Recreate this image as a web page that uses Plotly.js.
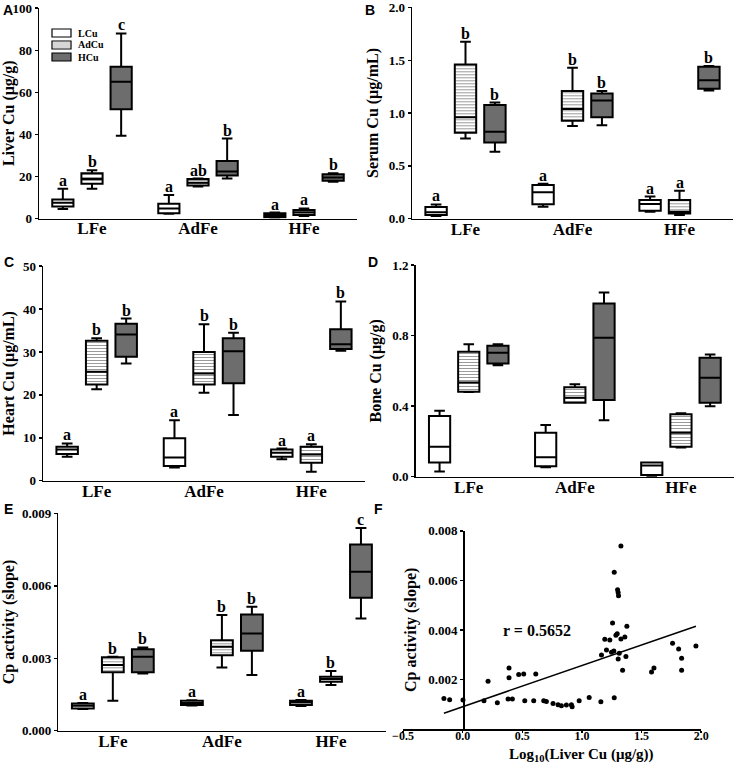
<!DOCTYPE html>
<html>
<head>
<meta charset="utf-8">
<script src="https://cdn.plot.ly/plotly-3.0.1.min.js"></script>
<style>html,body{margin:0;padding:0;background:#fff;}#chart{width:736px;height:763px;}</style>
</head>
<body>
<div id="chart"></div>
<script>
// ---------------- DATA ----------------
const groups = ['LFe', 'AdFe', 'HFe'];
const seriesNames = ['LCu', 'AdCu', 'HCu'];
// each row: [lower whisker, Q1, median, Q3, upper whisker] for LFe, AdFe, HFe
// A: Liver Cu (µg/g)
const liverLCu = [[4.5, 5.7, 7.5, 9.0, 14.2], [2.2, 2.5, 4.7, 7.0, 11.2], [0.3, 0.6, 1.5, 2.5, 2.8]];
const liverAdCu = [[14.2, 16.5, 18.8, 21.5, 23.0], [15.2, 15.7, 17.0, 18.8, 19.0], [1.2, 1.7, 3.0, 4.1, 4.8]];
const liverHCu = [[39.4, 52.0, 65.0, 72.2, 88.0], [19.0, 20.4, 22.3, 27.4, 38.0], [17.5, 17.9, 19.5, 21.0, 21.5]];
const liverLetters = [['a', 'b', 'c'], ['a', 'ab', 'b'], ['a', 'a', 'b']];
// B: Serum Cu (µg/mL)
const serumLCu = [[0.025, 0.035, 0.06, 0.11, 0.135], [0.114, 0.136, 0.25, 0.32, 0.33], [0.066, 0.076, 0.139, 0.177, 0.21]];
const serumAdCu = [[0.76, 0.814, 0.96, 1.46, 1.675], [0.877, 0.927, 1.04, 1.21, 1.43], [0.035, 0.05, 0.065, 0.177, 0.265]];
const serumHCu = [[0.634, 0.722, 0.823, 1.076, 1.10], [0.886, 0.96, 1.12, 1.186, 1.21], [1.215, 1.23, 1.31, 1.44, 1.445]];
const serumLetters = [['a', 'b', 'b'], ['a', 'b', 'b'], ['a', 'a', 'b']];
// C: Heart Cu (µg/mL)
const heartLCu = [[5.6, 6.2, 7.3, 7.9, 8.7], [3.1, 3.4, 5.4, 9.9, 14.1], [5.0, 5.6, 6.5, 7.3, 7.5]];
const heartAdCu = [[21.3, 22.4, 25.4, 32.6, 33.2], [20.5, 22.4, 25.0, 30.0, 36.5], [2.1, 4.2, 6.1, 7.9, 8.5]];
const heartHCu = [[27.3, 28.9, 34.1, 36.6, 37.8], [15.3, 22.7, 30.2, 33.2, 34.5], [30.3, 30.7, 31.8, 35.3, 41.8]];
const heartLetters = [['a', 'b', 'b'], ['a', 'b', 'b'], ['a', 'a', 'b']];
// D: Bone Cu (µg/g)
const boneLCu = [[0.03, 0.081, 0.17, 0.344, 0.374], [0.053, 0.06, 0.11, 0.25, 0.293], [0.004, 0.009, 0.063, 0.081, 0.081]];
const boneAdCu = [[0.48, 0.482, 0.535, 0.709, 0.752], [0.42, 0.42, 0.448, 0.507, 0.524], [0.166, 0.17, 0.25, 0.354, 0.36]];
const boneHCu = [[0.633, 0.643, 0.703, 0.743, 0.752], [0.321, 0.435, 0.788, 0.983, 1.045], [0.40, 0.42, 0.561, 0.675, 0.694]];
// E: Cp activity (slope)
const cpLCu = [[0.0009, 0.00092, 0.00103, 0.00113, 0.00115], [0.00104, 0.00106, 0.00115, 0.00124, 0.00126], [0.00102, 0.00106, 0.00117, 0.00124, 0.00127]];
const cpAdCu = [[0.00124, 0.00242, 0.00272, 0.00304, 0.00306], [0.00262, 0.00313, 0.00348, 0.00375, 0.00479], [0.00189, 0.00203, 0.00214, 0.00224, 0.00247]];
const cpHCu = [[0.00237, 0.00242, 0.00306, 0.00338, 0.00345], [0.00231, 0.00331, 0.00403, 0.00482, 0.00514], [0.00465, 0.00551, 0.00659, 0.00772, 0.0084]];
const cpLetters = [['a', 'b', 'b'], ['a', 'b', 'b'], ['a', 'b', 'c']];
// F: correlation
const logLiverCu = [-0.157, -0.109, 0.003, 0.179, 0.213, 0.291, 0.389, 0.389, 0.381, 0.417, 0.47, 0.512, 0.521, 0.596, 0.613, 0.68, 0.702, 0.758, 0.8, 0.828, 0.87, 0.912, 0.918, 0.977, 1.061, 1.159, 1.271,
  1.327, 1.271, 1.299, 1.304, 1.307, 1.257, 1.377, 1.192, 1.234, 1.285, 1.296, 1.327, 1.36, 1.164, 1.206, 1.248, 1.268, 1.313, 1.304, 1.369, 1.341, 1.584, 1.604, 1.76, 1.811, 1.836, 1.836, 1.956];
const cpActivity = [0.00123, 0.00118, 0.00117, 0.00114, 0.00193, 0.00106, 0.00246, 0.00207, 0.00121, 0.00121, 0.0022, 0.00222, 0.00114, 0.00114, 0.00222, 0.00114, 0.00111, 0.00103, 0.00098, 0.00094, 0.00097, 0.00098, 0.0009, 0.00114, 0.00127, 0.0011, 0.00126,
  0.00739, 0.00633, 0.00562, 0.00551, 0.00538, 0.00428, 0.00415, 0.00362, 0.00359, 0.00379, 0.00385, 0.00363, 0.00372, 0.00299, 0.00319, 0.0031, 0.00315, 0.00306, 0.00283, 0.00293, 0.00237, 0.0023, 0.00246, 0.00346, 0.00323, 0.00286, 0.00237, 0.00335];
const fitIntercept = 0.0009;
const fitSlope = 0.00166;
const rText = 'r = 0.5652';

// ---------------- STYLE / LAYOUT ----------------
const W = 736, H = 763;
const SERIF = 'Liberation Serif, Times New Roman, serif';
const SANS = 'Liberation Sans, Arial, sans-serif';
const offsets = [-0.275, 0, 0.275];
const boxW = 0.2;
const fills = ['#ffffff', 'rgba(0,0,0,0)', '#6d6d6d'];
const px = v => v / W;
const py = v => 1 - v / H;

const traces = [];
const annotations = [];
const shapes = [];
const layout = {
  width: W, height: H, margin: {l: 0, r: 0, t: 0, b: 0},
  paper_bgcolor: '#fff', plot_bgcolor: 'rgba(0,0,0,0)',
  showlegend: false, boxmode: 'overlay', barmode: 'overlay',
  font: {family: SERIF, color: '#000'},
  annotations: annotations, shapes: shapes
};

function addPanel(n, cfg) {
  const xa = 'x' + (n === 1 ? '' : n), ya = 'y' + (n === 1 ? '' : n);
  const xk = 'xaxis' + (n === 1 ? '' : n), yk = 'yaxis' + (n === 1 ? '' : n);
  const sets = cfg.sets;
  // striped AdCu box bodies (pattern fill under the box outline)
  const ad = sets[1];
  traces.push({
    type: 'bar', xaxis: xa, yaxis: ya,
    x: groups.map((g, i) => i + offsets[1]),
    base: ad.map(r => r[1]), y: ad.map(r => r[3] - r[1]),
    width: boxW, hoverinfo: 'skip',
    marker: {color: '#fff', line: {width: 0},
      pattern: {shape: '-', size: 3, solidity: 0.35, fgcolor: '#9a9a9a', bgcolor: '#ffffff'}}
  });
  sets.forEach((st, s) => {
    traces.push({
      type: 'box', xaxis: xa, yaxis: ya, name: seriesNames[s],
      x: groups.map((g, i) => i + offsets[s]),
      lowerfence: st.map(r => r[0]), q1: st.map(r => r[1]), median: st.map(r => r[2]),
      q3: st.map(r => r[3]), upperfence: st.map(r => r[4]),
      width: boxW, whiskerwidth: 0.5, fillcolor: fills[s],
      line: {color: '#000', width: 2}, boxpoints: false, hoverinfo: 'skip'
    });
  });
  if (cfg.letters) {
    sets.forEach((st, s) => {
      st.forEach((r, i) => {
        annotations.push({
          xref: xa, yref: ya, x: i + offsets[s], y: r[4], text: cfg.letters[i][s],
          showarrow: false, yanchor: 'bottom', xanchor: 'center', yshift: -2,
          font: {family: SERIF, size: 16, weight: 'bold', color: '#000'}
        });
      });
    });
  }
  const top = cfg.tickvals[cfg.tickvals.length - 1];
  layout[xk] = {
    domain: [px(cfg.x0), px(cfg.x1)], range: [-0.5, 2.5], anchor: ya,
    tickvals: [0, 1, 2], ticktext: groups, ticks: '', ticklabelstandoff: -6,
    showline: true, linecolor: '#000', linewidth: 1.5, showgrid: false, zeroline: false,
    tickfont: {family: SERIF, size: 17, weight: 'bold', color: '#000'}, fixedrange: true
  };
  layout[yk] = {
    domain: [py(cfg.yb), py(cfg.yt)], range: [0, top * 1.001], anchor: xa,
    tickvals: cfg.tickvals, tickformat: cfg.fmt, ticks: 'outside', ticklen: 3, tickwidth: 1.5, tickcolor: '#000',
    ticklabelstandoff: 0,
    showline: true, linecolor: '#000', linewidth: 1.5, showgrid: false, zeroline: false,
    tickfont: {family: SERIF, size: 13, weight: 'bold', color: '#000'}, fixedrange: true,
    title: {text: cfg.title, standoff: cfg.standoff || 6, font: {family: SERIF, size: 16, weight: 'bold', color: '#000'}}
  };
}

addPanel(1, {sets: [liverLCu, liverAdCu, liverHCu], letters: liverLetters, x0: 39, x1: 357, yb: 218.5, yt: 8,
  tickvals: [0, 20, 40, 60, 80, 100], fmt: 'd', title: 'Liver Cu (μg/g)'});
addPanel(2, {sets: [serumLCu, serumAdCu, serumHCu], letters: serumLetters, x0: 412, x1: 733, yb: 218.7, yt: 7.3,
  tickvals: [0, 0.5, 1, 1.5, 2], fmt: '.1f', title: 'Serum Cu (μg/mL)'});
addPanel(3, {sets: [heartLCu, heartAdCu, heartHCu], letters: heartLetters, x0: 43, x1: 365, yb: 480.7, yt: 266,
  tickvals: [0, 10, 20, 30, 40, 50], fmt: 'd', title: 'Heart Cu (μg/mL)'});
addPanel(4, {sets: [boneLCu, boneAdCu, boneHCu], letters: null, x0: 415.7, x1: 734, yb: 476.7, yt: 265,
  tickvals: [0, 0.4, 0.8, 1.2], fmt: '.1f', title: 'Bone Cu (μg/g)'});
addPanel(5, {sets: [cpLCu, cpAdCu, cpHCu], letters: cpLetters, x0: 58.3, x1: 385.5, yb: 730.7, yt: 513.3,
  tickvals: [0, 0.003, 0.006, 0.009], fmt: '.3f', title: 'Cp activity (slope)'});

// Panel F: scatter + fit line
const xMin = Math.min(...logLiverCu), xMax = Math.max(...logLiverCu);
traces.push({type: 'scatter', mode: 'markers', xaxis: 'x6', yaxis: 'y6', x: logLiverCu, y: cpActivity,
  marker: {color: '#000', size: 5}, hoverinfo: 'skip'});
traces.push({type: 'scatter', mode: 'lines', xaxis: 'x6', yaxis: 'y6', x: [xMin, xMax],
  y: [fitIntercept + fitSlope * xMin, fitIntercept + fitSlope * xMax],
  line: {color: '#000', width: 1.5}, hoverinfo: 'skip'});
layout.xaxis6 = {
  domain: [px(403), px(701.3)], range: [-0.5, 2.001], anchor: 'y6',
  tickvals: [-0.5, 0, 0.5, 1, 1.5, 2], tickformat: '.1f', ticks: 'outside', ticklen: 2, tickwidth: 1.5, tickcolor: '#000',
  ticklabelstandoff: -7,
  showline: true, linecolor: '#000', linewidth: 1.5, showgrid: false, zeroline: false,
  tickfont: {family: SERIF, size: 12, weight: 'bold', color: '#000'}, fixedrange: true
};
layout.yaxis6 = {
  domain: [py(729), py(530.7)], range: [0, 0.008008], anchor: 'free', position: px(463),
  tickvals: [0.002, 0.004, 0.006, 0.008], tickformat: '.3f', ticks: 'outside', ticklen: 3, tickwidth: 1.5, tickcolor: '#000',
  showline: true, linecolor: '#000', linewidth: 1.5, showgrid: false, zeroline: false,
  tickfont: {family: SERIF, size: 13, weight: 'bold', color: '#000'}, fixedrange: true,
  title: {text: 'Cp activity (slope)', standoff: 6, font: {family: SERIF, size: 16, weight: 'bold', color: '#000'}}
};
annotations.push({xref: 'x6', yref: 'y6', x: 0.62, y: 0.00398, text: rText, showarrow: false,
  font: {family: SERIF, size: 16, weight: 'bold', color: '#000'}});
annotations.push({xref: 'paper', yref: 'paper', x: px(581), y: py(766), xanchor: 'center', yanchor: 'bottom',
  text: 'Log<sub>10</sub>(Liver Cu (μg/g))', showarrow: false,
  font: {family: SERIF, size: 15, weight: 'bold', color: '#000'}});

// Panel letters
[['A', 1, 10], ['B', 363, 10], ['C', 2, 262], ['D', 366, 262], ['E', 2, 509], ['F', 372, 509]].forEach(([t, x, y]) => {
  annotations.push({xref: 'paper', yref: 'paper', x: px(x), y: py(y), xanchor: 'left', yanchor: 'middle', text: t,
    showarrow: false, font: {family: SANS, size: 14, weight: 'bold', color: '#000'}});
});

// Legend (panel A)
const legRows = [33, 45, 57];
legRows.forEach((cy, s) => {
  shapes.push({type: 'rect', xref: 'paper', yref: 'paper', x0: px(52), x1: px(71), y0: py(cy + 4), y1: py(cy - 4),
    fillcolor: s === 2 ? '#6d6d6d' : '#fff', line: {color: '#000', width: 1.2}});
  if (s === 1) {
    [-2, 0, 2].forEach(d => shapes.push({type: 'line', xref: 'paper', yref: 'paper', x0: px(53), x1: px(70),
      y0: py(cy + d), y1: py(cy + d), line: {color: '#9a9a9a', width: 0.8}}));
  }
  annotations.push({xref: 'paper', yref: 'paper', x: px(76), y: py(cy), xanchor: 'left', yanchor: 'middle',
    text: seriesNames[s], showarrow: false, font: {family: SERIF, size: 10, weight: 'bold', color: '#000'}});
});

Plotly.newPlot('chart', traces, layout, {staticPlot: true, displayModeBar: false});
</script>
</body>
</html>
